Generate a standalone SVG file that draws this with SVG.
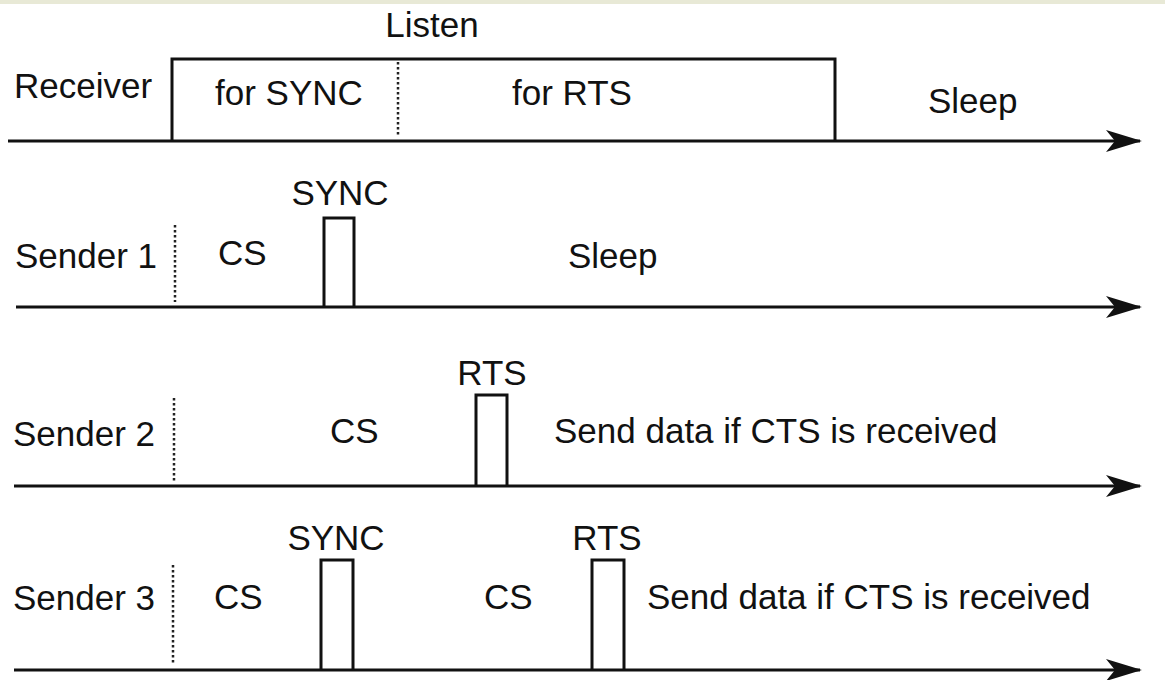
<svg xmlns="http://www.w3.org/2000/svg" width="1165" height="680" viewBox="0 0 1165 680">
<style>
.t{font-family:"Liberation Sans",Arial,sans-serif;font-size:35px;fill:#111}
.m{text-anchor:middle}
.ln{stroke:#111;stroke-width:3;fill:none}
.dot{stroke:#222;stroke-width:2.5;stroke-dasharray:2.5 2.5;fill:none}
</style>
<defs>
<marker id="ah" markerUnits="userSpaceOnUse" markerWidth="36" markerHeight="24" refX="34" refY="12" orient="auto">
<path d="M0,1 L36,12 L0,23 L9,12 z" fill="#111"/>
</marker>
</defs>
<rect width="1165" height="680" fill="#fff"/>
<rect width="1165" height="4" fill="#e8e9d6"/>
<g id="connectors">
<line class="ln" x1="8" y1="141" x2="1140" y2="141" marker-end="url(#ah)"/>
<line class="ln" x1="16" y1="307" x2="1140" y2="307" marker-end="url(#ah)"/>
<line class="ln" x1="14" y1="486" x2="1140" y2="486" marker-end="url(#ah)"/>
<line class="ln" x1="14" y1="670" x2="1140" y2="670" marker-end="url(#ah)"/>
</g>
<g id="receiver">
<text class="t" x="14" y="98">Receiver</text>
<text class="t m" x="432" y="37">Listen</text>
<polyline class="ln" points="172,141 172,59 835,59 835,141"/>
<line class="dot" x1="398" y1="62" x2="398" y2="137"/>
<text class="t" x="215" y="105">for SYNC</text>
<text class="t" x="512" y="105">for RTS</text>
<text class="t" x="928" y="113">Sleep</text>
</g>
<g id="sender1">
<text class="t" x="15" y="268">Sender 1</text>
<line class="dot" x1="175" y1="225" x2="175" y2="302"/>
<text class="t" x="218" y="265">CS</text>
<polyline class="ln" points="324,307 324,218 354,218 354,307"/>
<text class="t m" x="340" y="205">SYNC</text>
<text class="t" x="568" y="268">Sleep</text>
</g>
<g id="sender2">
<text class="t" x="13" y="446">Sender 2</text>
<line class="dot" x1="174" y1="398" x2="174" y2="482"/>
<text class="t" x="330" y="443">CS</text>
<polyline class="ln" points="476,486 476,395 507,395 507,486"/>
<text class="t m" x="492" y="385">RTS</text>
<text class="t" x="554" y="443">Send data if CTS is received</text>
</g>
<g id="sender3">
<text class="t" x="13" y="610">Sender 3</text>
<line class="dot" x1="173" y1="565" x2="173" y2="664"/>
<text class="t" x="214" y="609">CS</text>
<polyline class="ln" points="321,670 321,560 353,560 353,670"/>
<text class="t m" x="336" y="550">SYNC</text>
<text class="t" x="484" y="609">CS</text>
<polyline class="ln" points="592,670 592,560 624,560 624,670"/>
<text class="t m" x="607" y="550">RTS</text>
<text class="t" x="647" y="609">Send data if CTS is received</text>
</g>
</svg>
